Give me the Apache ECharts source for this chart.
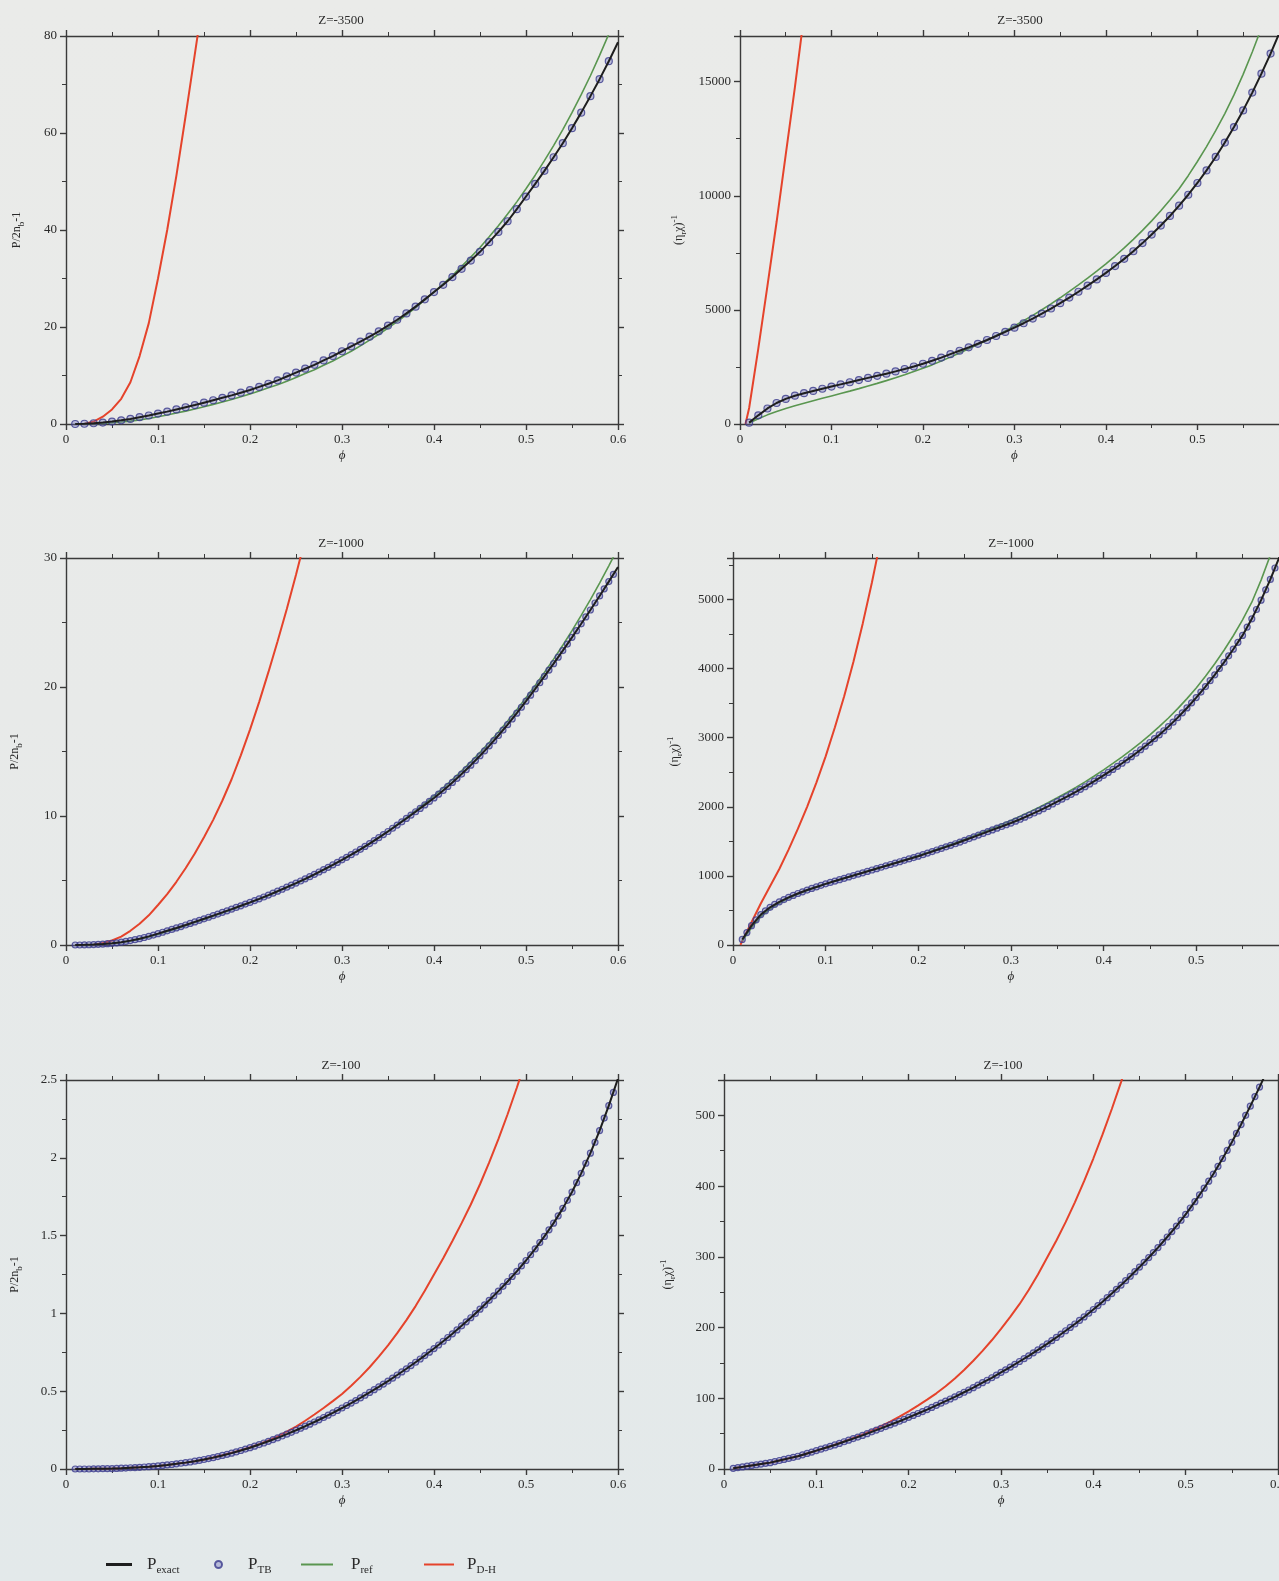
<!DOCTYPE html>
<html><head><meta charset="utf-8">
<script src="https://cdn.jsdelivr.net/npm/echarts@6/dist/echarts.min.js"></script>
<style>
html,body{margin:0;padding:0;overflow:hidden;width:1279px;height:1581px;}
body{background:linear-gradient(180deg,#eaebe9 0%,#e8eae9 45%,#e3e9ea 100%);}
#c{width:1300px;height:1581px;}
</style></head><body><div id="c"></div>
<script>
// ---------- data ----------
const phi = [0.01,0.02,0.03,0.04,0.05,0.06,0.07,0.08,0.09,0.10,0.11,0.12,0.13,0.14,0.15,0.16,0.17,0.18,0.19,0.20,
 0.21,0.22,0.23,0.24,0.25,0.26,0.27,0.28,0.29,0.30,0.31,0.32,0.33,0.34,0.35,0.36,0.37,0.38,0.39,0.40,
 0.41,0.42,0.43,0.44,0.45,0.46,0.47,0.48,0.49,0.50,0.51,0.52,0.53,0.54,0.55,0.56,0.57,0.58,0.59,0.60];
// finer phi grid on which the P_TB circles are drawn in the Z=-1000 and Z=-100 panels
const phiFine = [0.010,0.015,0.020,0.025,0.030,0.035,0.040,0.045,0.050,0.055,0.060,0.065,0.070,0.075,0.080,0.085,0.090,0.095,0.100,0.105,
 0.110,0.115,0.120,0.125,0.130,0.135,0.140,0.145,0.150,0.155,0.160,0.165,0.170,0.175,0.180,0.185,0.190,0.195,0.200,0.205,
 0.210,0.215,0.220,0.225,0.230,0.235,0.240,0.245,0.250,0.255,0.260,0.265,0.270,0.275,0.280,0.285,0.290,0.295,0.300,0.305,
 0.310,0.315,0.320,0.325,0.330,0.335,0.340,0.345,0.350,0.355,0.360,0.365,0.370,0.375,0.380,0.385,0.390,0.395,0.400,0.405,
 0.410,0.415,0.420,0.425,0.430,0.435,0.440,0.445,0.450,0.455,0.460,0.465,0.470,0.475,0.480,0.485,0.490,0.495,0.500,0.505,
 0.510,0.515,0.520,0.525,0.530,0.535,0.540,0.545,0.550,0.555,0.560,0.565,0.570,0.575,0.580,0.585,0.590,0.595];

const xTicks = [0,0.1,0.2,0.3,0.4,0.5,0.6];
const panelTitles = ['Z=-3500','Z=-3500','Z=-1000','Z=-1000','Z=-100','Z=-100'];

// Z=-3500, P/2n_b-1
const p1Exact = [0.0,0.05,0.15,0.3,0.5,0.75,1.05,1.4,1.75,2.15,
 2.55,3.0,3.45,3.9,4.4,4.9,5.4,5.9,6.45,7.0,
 7.65,8.3,9.0,9.8,10.6,11.4,12.2,13.1,14.0,15.0,
 16.0,17.0,18.0,19.1,20.3,21.5,22.8,24.2,25.7,27.2,
 28.7,30.3,32.0,33.7,35.5,37.5,39.6,41.8,44.3,46.9,
 49.5,52.2,55.0,57.9,61.0,64.2,67.6,71.1,74.8,78.7];
const p1TB = [0.0,0.05,0.15,0.3,0.5,0.75,1.05,1.4,1.75,2.15,
 2.55,3.0,3.45,3.9,4.4,4.9,5.4,5.9,6.45,7.0,
 7.65,8.3,9.0,9.8,10.6,11.4,12.2,13.1,14.0,15.0,
 16.0,17.0,18.0,19.1,20.3,21.5,22.8,24.2,25.7,27.2,
 28.7,30.3,32.0,33.7,35.5,37.5,39.6,41.8,44.3,46.9,
 49.5,52.2,55.0,57.9,61.0,64.2,67.6,71.1,74.8];
const p1Ref = [0.0,0.02,0.06,0.13,0.25,0.4,0.6,0.85,1.15,1.5,
 1.85,2.25,2.65,3.1,3.55,4.05,4.55,5.05,5.6,6.2,
 6.8,7.45,8.1,8.8,9.6,10.4,11.2,12.1,13.0,14.0,
 15.0,16.1,17.3,18.5,19.8,21.1,22.5,24.0,25.6,27.2,
 28.9,30.6,32.5,34.4,36.4,38.6,40.9,43.3,45.8,48.5,
 51.3,54.3,57.4,60.7,64.2,67.9,71.8,76.0,80.4,85.0];
const phiDH1 = [0.02,0.03,0.04,0.05,0.06,0.07,0.08,0.09,0.10,0.11,0.12,0.13,0.14,0.15];
const p1DH = [0,0.5,1.5,3.0,5.2,8.6,14.0,20.8,30.0,40.0,51.2,63.5,76.2,89.0];

// Z=-3500, (eta_r chi)^-1
const p2Exact = [60,380,680,920,1100,1240,1350,1450,1545,1640,
 1735,1830,1925,2020,2110,2205,2305,2410,2520,2640,
 2770,2910,3060,3210,3360,3515,3680,3855,4035,4220,
 4415,4620,4835,5060,5295,5540,5795,6060,6335,6620,
 6920,7235,7570,7925,8300,8695,9115,9565,10045,10560,
 11110,11700,12330,13010,13740,14520,15350,16230,17170,18180];
const p2TB = [60,380,680,920,1100,1240,1350,1450,1545,1640,
 1735,1830,1925,2020,2110,2205,2305,2410,2520,2640,
 2770,2910,3060,3210,3360,3515,3680,3855,4035,4220,
 4415,4620,4835,5060,5295,5540,5795,6060,6335,6620,
 6920,7235,7570,7925,8300,8695,9115,9565,10045,10560,
 11110,11700,12330,13010,13740,14520,15350,16230];
const p2Ref = [40,230,400,550,680,800,910,1020,1125,1230,
 1335,1440,1550,1665,1780,1900,2025,2160,2300,2440,
 2590,2760,2930,3110,3300,3480,3670,3870,4080,4300,
 4525,4760,5005,5260,5530,5810,6095,6390,6700,7020,
 7360,7715,8090,8485,8900,9340,9810,10310,10880,11500,
 12150,12850,13600,14420,15320,16300,17350,18450,19600,20800];
const phiDH2 = [0.006,0.01,0.02,0.03,0.04,0.05,0.06,0.07];
const p2DH = [0,700,3300,6050,8850,11800,14750,17900];

// Z=-1000, P/2n_b-1
const p3Exact = [0.0,0.01,0.03,0.07,0.13,0.22,0.34,0.49,0.67,0.88,
 1.1,1.32,1.55,1.79,2.03,2.28,2.53,2.78,3.04,3.3,
 3.58,3.87,4.17,4.48,4.8,5.13,5.48,5.84,6.21,6.6,
 7.0,7.42,7.86,8.32,8.8,9.3,9.81,10.33,10.86,11.4,
 11.98,12.6,13.25,13.94,14.67,15.44,16.24,17.08,17.97,18.9,
 19.85,20.82,21.81,22.82,23.85,24.9,25.97,27.06,28.17,29.3];
const p3TB = [0.0,0.0,0.01,0.02,0.03,0.05,0.07,0.1,0.13,0.17,
 0.22,0.28,0.34,0.41,0.49,0.58,0.67,0.77,0.88,0.99,
 1.1,1.21,1.32,1.43,1.55,1.67,1.79,1.91,2.03,2.15,
 2.28,2.4,2.53,2.65,2.78,2.91,3.04,3.17,3.3,3.44,
 3.58,3.72,3.87,4.02,4.17,4.32,4.48,4.64,4.8,4.96,
 5.13,5.3,5.48,5.66,5.84,6.02,6.21,6.4,6.6,6.8,
 7.0,7.21,7.42,7.64,7.86,8.09,8.32,8.56,8.8,9.05,
 9.3,9.55,9.81,10.07,10.33,10.59,10.86,11.13,11.4,11.69,
 11.98,12.29,12.6,12.92,13.25,13.59,13.94,14.3,14.67,15.05,
 15.44,15.84,16.24,16.66,17.08,17.52,17.97,18.43,18.9,19.37,
 19.85,20.33,20.82,21.31,21.81,22.31,22.82,23.33,23.85,24.37,
 24.9,25.43,25.97,26.51,27.06,27.61,28.17,28.73];
const p3Ref = [0.0,0.01,0.03,0.06,0.12,0.2,0.31,0.45,0.62,0.82,
 1.04,1.27,1.5,1.74,1.98,2.23,2.48,2.74,3.0,3.27,
 3.55,3.84,4.14,4.45,4.77,5.1,5.45,5.81,6.19,6.58,
 6.99,7.42,7.87,8.34,8.83,9.34,9.87,10.42,10.99,11.58,
 12.19,12.83,13.5,14.2,14.93,15.7,16.51,17.36,18.24,19.16,
 20.12,21.12,22.16,23.24,24.37,25.55,26.78,28.06,29.39,30.77];
const phiDH3 = [0.03,0.04,0.05,0.06,0.07,0.08,0.09,0.10,0.11,0.12,0.13,0.14,0.15,0.16,0.17,0.18,0.19,0.20,0.21,0.22,0.23,0.24,0.25,0.26];
const p3DH = [0.02,0.15,0.35,0.65,1.1,1.65,2.3,3.1,3.95,4.9,5.95,7.1,8.35,9.7,11.2,12.85,14.7,16.7,18.85,21.15,23.55,26.05,28.7,31.5];

// Z=-1000, (eta_r chi)^-1
const p4Exact = [80,280,440,545,625,690,745,795,840,885,
 925,965,1005,1045,1085,1125,1165,1205,1245,1285,
 1330,1375,1420,1465,1515,1565,1615,1665,1715,1765,
 1820,1880,1940,2005,2075,2145,2215,2290,2370,2455,
 2540,2630,2725,2825,2930,3040,3160,3290,3430,3580,
 3740,3910,4090,4280,4480,4720,4990,5290,5620,5980];
const p4TB = [80,180,280,365,440,495,545,588,625,658,
 690,718,745,770,795,818,840,863,885,905,
 925,945,965,985,1005,1025,1045,1065,1085,1105,
 1125,1145,1165,1185,1205,1225,1245,1265,1285,1307,
 1330,1352,1375,1397,1420,1442,1465,1490,1515,1540,
 1565,1590,1615,1640,1665,1690,1715,1740,1765,1792,
 1820,1850,1880,1910,1940,1972,2005,2040,2075,2110,
 2145,2180,2215,2252,2290,2330,2370,2412,2455,2497,
 2540,2585,2630,2677,2725,2775,2825,2877,2930,2985,
 3040,3100,3160,3225,3290,3360,3430,3505,3580,3660,
 3740,3825,3910,4000,4090,4185,4280,4380,4480,4600,
 4720,4855,4990,5140,5290,5455,5620,5800];
const p4Ref = [60,250,410,520,605,675,735,788,836,882,
 924,965,1006,1047,1088,1129,1170,1211,1253,1295,
 1340,1386,1432,1480,1530,1582,1635,1690,1746,1803,
 1863,1926,1990,2058,2130,2204,2280,2360,2445,2535,
 2627,2723,2824,2930,3042,3160,3285,3420,3565,3720,
 3890,4070,4265,4475,4705,4960,5280,5640,6010,6400];
const phiDH4 = [0.008,0.01,0.02,0.03,0.04,0.05,0.06,0.07,0.08,0.09,0.10,0.11,0.12,0.13,0.14,0.15,0.16];
const p4DH = [0,60,330,600,850,1100,1380,1680,2000,2350,2730,3150,3600,4100,4650,5250,5900];

// Z=-100, P/2n_b-1
const p5Exact = [0.0,0.0,0.001,0.002,0.003,0.005,0.008,0.011,0.015,0.02,
 0.026,0.033,0.041,0.05,0.061,0.073,0.087,0.102,0.119,0.137,
 0.157,0.178,0.2,0.224,0.249,0.275,0.302,0.331,0.361,0.392,
 0.424,0.457,0.492,0.528,0.565,0.604,0.644,0.686,0.729,0.774,
 0.821,0.869,0.92,0.972,1.027,1.084,1.143,1.205,1.27,1.34,
 1.415,1.495,1.58,1.675,1.78,1.9,2.03,2.175,2.335,2.51];
const p5TB = [0.0,0.0,0.0,0.0,0.001,0.001,0.002,0.002,0.003,0.004,
 0.005,0.006,0.008,0.009,0.011,0.013,0.015,0.017,0.02,0.023,
 0.026,0.029,0.033,0.037,0.041,0.045,0.05,0.055,0.061,0.067,
 0.073,0.08,0.087,0.094,0.102,0.11,0.119,0.128,0.137,0.147,
 0.157,0.167,0.178,0.189,0.2,0.212,0.224,0.236,0.249,0.262,
 0.275,0.288,0.302,0.316,0.331,0.346,0.361,0.376,0.392,0.408,
 0.424,0.44,0.457,0.474,0.492,0.51,0.528,0.546,0.565,0.584,
 0.604,0.624,0.644,0.665,0.686,0.707,0.729,0.751,0.774,0.797,
 0.821,0.845,0.869,0.894,0.92,0.946,0.972,0.999,1.027,1.055,
 1.084,1.113,1.143,1.174,1.205,1.237,1.27,1.305,1.34,1.377,
 1.415,1.455,1.495,1.537,1.58,1.627,1.675,1.727,1.78,1.84,
 1.9,1.965,2.03,2.1,2.175,2.255,2.335,2.42];
const phiDH5 = [0.01,0.02,0.03,0.04,0.05,0.06,0.07,0.08,0.09,0.10,0.11,0.12,0.13,0.14,0.15,0.16,0.17,0.18,0.19,0.20,
 0.21,0.22,0.23,0.24,0.25,0.26,0.27,0.28,0.29,0.30,0.31,0.32,0.33,0.34,0.35,0.36,0.37,0.38,0.39,0.40,
 0.41,0.42,0.43,0.44,0.45,0.46,0.47,0.48,0.49,0.50];
const p5DH = [0.0,0.0,0.001,0.002,0.003,0.005,0.008,0.011,0.015,0.02,
 0.026,0.033,0.041,0.05,0.061,0.074,0.088,0.104,0.121,0.14,
 0.16,0.183,0.21,0.24,0.272,0.31,0.35,0.392,0.436,0.482,
 0.535,0.592,0.654,0.722,0.795,0.873,0.957,1.047,1.145,1.25,
 1.355,1.465,1.58,1.7,1.83,1.97,2.12,2.28,2.45,2.63];

// Z=-100, (eta_r chi)^-1
const p6Exact = [1,3,5,7,9,12,15,18,22,26,
 30,34,38.5,43,47.5,52.5,57.5,62.5,67.5,73,
 78.5,84,90,96,102,108.5,115,122,129,136.5,
 144,152,160,168.5,177,186,195.5,205,215,225.5,
 236.5,248,260,272.5,285.5,299,313,328,343.5,360,
 378,397,417,439,462,487,513,540,568,597];
const p6TB = [1,2,3,4,5,6,7,8,9,10.5,
 12,13.5,15,16.5,18,20,22,24,26,28,
 30,32,34,36.2,38.5,40.7,43,45.2,47.5,50,
 52.5,55,57.5,60,62.5,65,67.5,70.2,73,75.7,
 78.5,81.2,84,87,90,93,96,99,102,105.2,
 108.5,111.7,115,118.5,122,125.5,129,132.7,136.5,140.2,
 144,148,152,156,160,164.2,168.5,172.7,177,181.5,
 186,190.7,195.5,200.2,205,210,215,220.2,225.5,231,
 236.5,242.2,248,254,260,266.2,272.5,279,285.5,292.2,
 299,306,313,320.5,328,335.7,343.5,351.7,360,369,
 378,387.5,397,407,417,428,439,450.5,462,474.5,
 487,500,513,526.5,540,554,568,582];
const phiDH6 = [0.01,0.02,0.03,0.04,0.05,0.06,0.07,0.08,0.09,0.10,0.11,0.12,0.13,0.14,0.15,0.16,0.17,0.18,0.19,0.20,
 0.21,0.22,0.23,0.24,0.25,0.26,0.27,0.28,0.29,0.30,0.31,0.32,0.33,0.34,0.35,0.36,0.37,0.38,0.39,0.40,
 0.41,0.42,0.43,0.44];
const p6DH = [1,3,5,7,9,12,15,18,22,26,
 30,34.5,39,44,49,54.5,60.5,67,74,81.5,
 89.5,98,107,117,128,140,153,167,182,198,
 215,233,253,275,299,323,349,377,407,439,
 473,509,547,587];

// y-axis ranges
const yMax = [80,17000,30,5600,2.5,550];
const yStep = [20,5000,10,1000,0.5,100];

// ---------- layout & style ----------
const SERIF = '"Liberation Serif","DejaVu Serif","Times New Roman",serif';
const INK = '#2a2a2a';
const AX = '#3a3a3a';
const layout = [
 {left:66, top:36, width:552, height:388, tx:341, ty:14, gap:40, kind:'P', sym:7},
 {left:740, top:36, width:555, height:388, tx:1020, ty:14, gap:52, kind:'X', sym:7},
 {left:66, top:558, width:552, height:387, tx:341, ty:537, gap:42, kind:'P', sym:6},
 {left:733, top:558, width:556, height:387, tx:1011, ty:537, gap:49, kind:'X', sym:6},
 {left:66, top:1080, width:552, height:389, tx:341, ty:1059, gap:42, kind:'P', sym:6},
 {left:724, top:1080, width:554, height:389, tx:1003, ty:1059, gap:47, kind:'X', sym:6}
];
const panels = [
 {exact:p1Exact, tbX:phi, tb:p1TB, ref:p1Ref, dhX:phiDH1, dh:p1DH},
 {exact:p2Exact, tbX:phi, tb:p2TB, ref:p2Ref, dhX:phiDH2, dh:p2DH},
 {exact:p3Exact, tbX:phiFine, tb:p3TB, ref:p3Ref, dhX:phiDH3, dh:p3DH},
 {exact:p4Exact, tbX:phiFine, tb:p4TB, ref:p4Ref, dhX:phiDH4, dh:p4DH},
 {exact:p5Exact, tbX:phiFine, tb:p5TB, ref:null, dhX:phiDH5, dh:p5DH},
 {exact:p6Exact, tbX:phiFine, tb:p6TB, ref:null, dhX:phiDH6, dh:p6DH}
];

const zip = (xs, ys) => ys.map((y, i) => [xs[i], y]);
const lineStyleAx = {color:AX, width:1.4};
const rich = {
  a:{fontFamily:SERIF, fontSize:12, lineHeight:18, verticalAlign:'middle', color:INK},
  s:{fontFamily:SERIF, fontSize:9, lineHeight:9, verticalAlign:'bottom', color:INK},
  u:{fontFamily:SERIF, fontSize:9, lineHeight:9, verticalAlign:'top', color:INK}
};
const yNames = {P:'{a|P/2n}{s|b}{a|-1}', X:'{a|(η}{s|r}{a|χ)}{u|-1}'};
const plain = v => String(Math.round(v * 1e6) / 1e6);

const grid = [], xAxis = [], yAxis = [], series = [], title = [];
layout.forEach((L, i) => {
  grid.push({left:L.left, top:L.top, width:L.width, height:L.height});
  title.push({text:panelTitles[i], left:L.tx, top:L.ty, textAlign:'center', padding:0,
    textStyle:{fontFamily:SERIF, fontSize:13, fontWeight:'normal', color:INK}});
  const xBase = {gridIndex:i, type:'value', min:xTicks[0], max:xTicks[xTicks.length-1], interval:xTicks[1]-xTicks[0],
    axisLine:{onZero:false, lineStyle:lineStyleAx},
    axisTick:{show:true, length:6, lineStyle:lineStyleAx},
    minorTick:{show:true, splitNumber:2, length:4, lineStyle:{color:AX, width:1}},
    splitLine:{show:false}, minorSplitLine:{show:false}};
  xAxis.push(Object.assign({}, xBase, {position:'bottom',
    axisLabel:{fontFamily:SERIF, fontSize:13, color:INK, margin:9, formatter:plain},
    name:'\u03d5', nameLocation:'middle', nameGap:25,
    nameTextStyle:{fontFamily:SERIF, fontStyle:'italic', fontSize:13, color:INK}}));
  xAxis.push(Object.assign({}, xBase, {position:'top', axisLabel:{show:false}}));
  const yBase = {gridIndex:i, type:'value', min:0, max:yMax[i], interval:yStep[i],
    axisLine:{onZero:false, lineStyle:lineStyleAx},
    axisTick:{show:true, length:6, lineStyle:lineStyleAx},
    minorTick:{show:true, splitNumber:2, length:4, lineStyle:{color:AX, width:1}},
    splitLine:{show:false}, minorSplitLine:{show:false}};
  const exactMax = Math.abs(yMax[i] / yStep[i] - Math.round(yMax[i] / yStep[i])) < 1e-9;
  yAxis.push(Object.assign({}, yBase, {position:'left',
    axisLabel:{fontFamily:SERIF, fontSize:13, color:INK, margin:9, showMaxLabel:exactMax, formatter:plain},
    name:yNames[L.kind], nameLocation:'middle', nameRotate:90, nameGap:L.gap,
    nameTextStyle:{fontFamily:SERIF, fontSize:12, color:INK, rich:rich}}));
  yAxis.push(Object.assign({}, yBase, {position:'right', axisLabel:{show:false}}));

  const P = panels[i];
  const ax = {xAxisIndex:2*i, yAxisIndex:2*i};
  series.push(Object.assign({name:'P_D-H', type:'line', data:zip(P.dhX, P.dh), showSymbol:false, symbol:'none',
    smooth:false, color:'#e5432b', lineStyle:{width:2, color:'#e5432b'}, z:2, clip:true}, ax));
  if (P.ref) series.push(Object.assign({name:'P_ref', type:'line', data:zip(phi, P.ref), showSymbol:false, symbol:'none',
    smooth:false, color:'#5a9650', lineStyle:{width:1.6, color:'#5a9650'}, z:3, clip:true}, ax));
  series.push(Object.assign({name:'P_TB', type:'scatter', data:zip(P.tbX, P.tb), symbol:'circle', symbolSize:L.sym,
    color:'rgba(105,105,185,0.45)',
    itemStyle:{color:'rgba(105,105,185,0.45)', borderColor:'#3a3a8c', borderWidth:1.2}, z:4, clip:true}, ax));
  series.push(Object.assign({name:'P_exact', type:'line', data:zip(phi, P.exact), showSymbol:false, symbol:'none',
    smooth:false, color:'#1e1e1e', lineStyle:{width:2, color:'#1e1e1e'}, z:5, clip:true}, ax));
});

// legend (one component per entry so each sits where it does in the figure)
const legFmt = n => { const k = n.indexOf('_'); return '{m|' + n.slice(0,k) + '}{s|' + n.slice(k+1) + '}'; };
const legRich = pad => ({
  m:{fontFamily:SERIF, fontSize:17, lineHeight:22, verticalAlign:'middle', color:INK, padding:[0,0,0,pad]},
  s:{fontFamily:SERIF, fontSize:11, lineHeight:11, verticalAlign:'bottom', color:INK}
});
const legendDefs = [
  {name:'P_exact', icon:'rect', left:106, w:26, h:3, pad:10},
  {name:'P_TB', icon:'circle', left:214, w:7, h:7, pad:21},
  {name:'P_ref', icon:'rect', left:301, w:32, h:2, pad:13},
  {name:'P_D-H', icon:'rect', left:424, w:30, h:2, pad:8}
];
const legend = legendDefs.map(d => ({
  data:[{name:d.name, icon:d.icon}], left:d.left, top:1556, padding:0, itemWidth:d.w, itemHeight:d.h,
  selectedMode:false, formatter:legFmt, textStyle:{rich:legRich(d.pad)}
}));

const chart = echarts.init(document.getElementById('c'), null, {renderer:'canvas'});
chart.setOption({animation:false, backgroundColor:'transparent', title, grid, xAxis, yAxis, series, legend});
</script></body></html>
